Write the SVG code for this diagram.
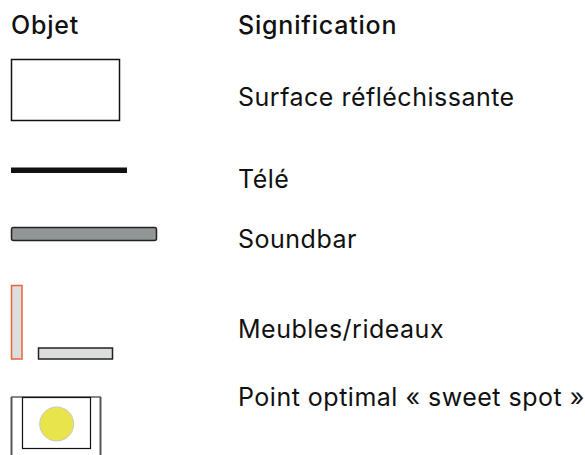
<svg xmlns="http://www.w3.org/2000/svg" width="585" height="455" viewBox="0 0 585 455">
  <style>
    .head { font-family: Inter, "Liberation Sans", sans-serif; font-size: 25px; font-weight: 500; letter-spacing: 0.8px; fill: #111; }
    .label { font-family: Inter, "Liberation Sans", sans-serif; font-size: 25px; font-weight: 400; letter-spacing: 0.5px; fill: #111; }
    .outline { fill: #fff; stroke: #111; stroke-width: 1.5; }
    .light { fill: #dcdedd; }
  </style>
  <rect width="585" height="455" fill="#fff"/>

  <!-- column headings -->
  <g id="headings">
    <text class="head" x="11" y="34">Objet</text>
    <text class="head" x="238" y="34">Signification</text>
  </g>

  <!-- reflective surface -->
  <g id="surface">
    <rect class="outline" x="11.5" y="59.5" width="108" height="61"/>
    <text class="label" x="238" y="106">Surface réfléchissante</text>
  </g>

  <!-- TV -->
  <g id="tele">
    <rect x="11" y="167.5" width="116" height="5.5" fill="#111"/>
    <text class="label" x="238" y="188">Télé</text>
  </g>

  <!-- soundbar -->
  <g id="soundbar">
    <rect x="11.5" y="227.5" width="145" height="13" rx="2" fill="#939696" stroke="#222" stroke-width="1.5"/>
    <text class="label" x="238" y="248">Soundbar</text>
  </g>

  <!-- furniture / curtains -->
  <g id="meubles">
    <rect class="light" x="11.5" y="285.5" width="10.5" height="73.5" stroke="#e8643c" stroke-width="1.5"/>
    <rect class="light" x="38.5" y="348" width="74" height="11" stroke="#222" stroke-width="1.5"/>
    <text class="label" x="238" y="338">Meubles/rideaux</text>
  </g>

  <!-- sweet spot -->
  <g id="sweet-spot">
    <line x1="11" y1="397" x2="101" y2="397" stroke="#111" stroke-width="1.2"/>
    <line x1="11.5" y1="397" x2="11.5" y2="455" stroke="#555" stroke-width="2"/>
    <line x1="100.5" y1="397" x2="100.5" y2="455" stroke="#555" stroke-width="2"/>
    <rect x="22.5" y="397.5" width="68" height="51" fill="none" stroke="#111" stroke-width="1.2"/>
    <circle cx="56.7" cy="424" r="17" fill="#e8e44c" stroke="#c8c8c8" stroke-width="1"/>
    <text class="label" x="238" y="406">Point optimal « sweet spot »</text>
  </g>
</svg>
